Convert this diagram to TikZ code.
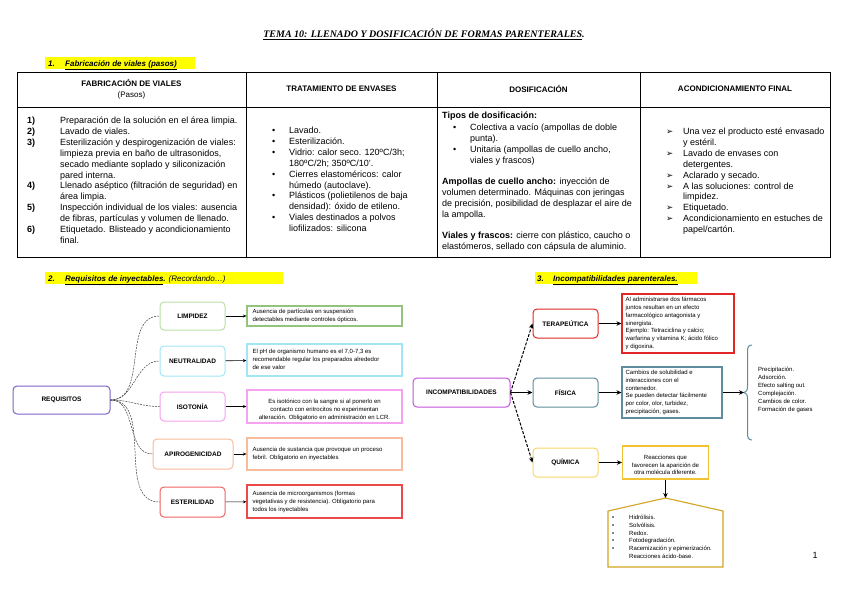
\documentclass[tikz,border=0pt]{standalone}
\usepackage{fontspec}
\usepackage{array}
\setmainfont{Liberation Sans}
\newfontfamily\serifT{Liberation Serif}
\newfontfamily\dvs{DejaVu Sans}
\usetikzlibrary{arrows.meta}
\newcommand{\tb}[2]{{\setlength{\tabcolsep}{0pt}\begin{tabular}{#1}#2\end{tabular}}}
\newcommand{\arw}{{\dvs\fontsize{8.5}{10.9}\selectfont ➢}}
\definecolor{hl}{HTML}{FFFF00}
\definecolor{cReq}{HTML}{7B61C9}
\definecolor{cLimp}{HTML}{B9DFA5}
\definecolor{cLimpD}{HTML}{93C47D}
\definecolor{cNeut}{HTML}{9FE6F7}
\definecolor{cIso}{HTML}{F5A3EE}
\definecolor{cApi}{HTML}{F8BB9B}
\definecolor{cEst}{HTML}{F06262}
\definecolor{cEstD}{HTML}{EA4A4A}
\definecolor{cInc}{HTML}{C552DE}
\definecolor{cTer}{HTML}{E32727}
\definecolor{cFis}{HTML}{5E8E9E}
\definecolor{cQui}{HTML}{F7D766}
\definecolor{cQuiD}{HTML}{F1C232}
\definecolor{cPent}{HTML}{D3A521}
\begin{document}
\begin{tikzpicture}[x=1pt,y=-1pt,
  tbl/.style={line width=0.9pt, black},
  hdr/.style={inner sep=0, font=\fontsize{8}{11}\selectfont\bfseries},
  body/.style={inner sep=0, anchor=north west, font=\fontsize{9}{10.9}\selectfont},
  sec/.style={inner sep=0, anchor=base west, font=\fontsize{8}{10}\selectfont\bfseries\itshape},
  cat/.style={draw=#1, rounded corners=4pt, line width=1pt, inner sep=0, font=\fontsize{6.5}{8}\selectfont\bfseries},
  dbox/.style={draw=#1, line width=1.1pt, inner sep=0},
  dtxt/.style={inner sep=0, font=\fontsize{6}{8}\selectfont},
  rtxt/.style={inner sep=0, font=\fontsize{6}{7.8}\selectfont},
  thinarr/.style={-{Stealth[length=3.5pt,width=3pt]}, line width=0.6pt, black},
  bigarr/.style={-{Stealth[length=5pt,width=4.5pt]}, line width=1pt, black},
  dcurve/.style={line width=0.5pt, black!75, dash pattern=on 2pt off 1pt},
]
\useasboundingbox (0,0) rectangle (848,600);
\fill[white] (0,0) rectangle (848,600);

% Title
\node[inner sep=0, font=\serifT\itshape\bfseries\fontsize{10}{12}\selectfont] (title) at (424,34)
  {\underline{TEMA 10: LLENADO Y DOSIFICACIÓN DE FORMAS PARENTERALES}.};

% Section 1 heading
\fill[hl] (45,57) rectangle (195,69);
\node[sec] (s1n) at (48,66) {1.};
\node[sec] (s1t) at (65,66) {\underline{Fabricación de viales (pasos)}};

% Table
\draw[tbl] (17,72) rectangle (830,257);
\draw[tbl] (17,107) -- (830,107);
\foreach \xx in {246,437,640} {\draw[tbl] (\xx,72) -- (\xx,257);}

\node[hdr] (h1) at (131.5,90) {\tb{c}{FABRICACIÓN DE VIALES\\{\mdseries (Pasos)}}};
\node[hdr] (h2) at (341.5,89) {TRATAMIENTO DE ENVASES};
\node[hdr] (h3) at (538.5,89) {DOSIFICACIÓN};
\node[hdr] (h4) at (735,89) {ACONDICIONAMIENTO FINAL};

\node[body] (c1) at (27,115.7) {\tb{>{\bfseries}p{33pt}l}{
1) & Preparación de la solución en el área limpia.\\
2) & Lavado de viales.\\
3) & Esterilización y despirogenización de viales:\\
   & limpieza previa en baño de ultrasonidos,\\
   & secado mediante soplado y siliconización\\
   & pared interna.\\
4) & Llenado aséptico (filtración de seguridad) en\\
   & área limpia.\\
5) & Inspección individual de los viales: ausencia\\
   & de fibras, partículas y volumen de llenado.\\
6) & Etiquetado. Blisteado y acondicionamiento\\
   & final.}};

\node[body] (c2) at (272,125.7) {\tb{p{17pt}l}{
\textbullet & Lavado.\\
\textbullet & Esterilización.\\
\textbullet & Vidrio: calor seco. 120ºC/3h;\\
            & 180ºC/2h; 350ºC/10’.\\
\textbullet & Cierres elastoméricos: calor\\
            & húmedo (autoclave).\\
\textbullet & Plásticos (polietilenos de baja\\
            & densidad): óxido de etileno.\\
\textbullet & Viales destinados a polvos\\
            & liofilizados: silicona}};

\node[body] (c3a) at (442,111.7) {\textbf{Tipos de dosificación:}};
\node[body] (c3b) at (453,122.7) {\tb{p{17pt}l}{
\textbullet & Colectiva a vacío (ampollas de doble\\
            & punta).\\
\textbullet & Unitaria (ampollas de cuello ancho,\\
            & viales y frascos)}};
\node[body] (c3c) at (442,176.7) {\tb{l}{
\textbf{Ampollas de cuello ancho:} inyección de\\
volumen determinado. Máquinas con jeringas\\
de precisión, posibilidad de desplazar el aire de\\
la ampolla.}};
\node[body] (c3d) at (442,230.7) {\tb{l}{
\textbf{Viales y frascos:} cierre con plástico, caucho o\\
elastómeros, sellado con cápsula de aluminio.}};

\node[body] (c4) at (666,126.7) {\tb{p{17pt}l}{
\arw & Una vez el producto esté envasado\\
  & y estéril.\\
\arw & Lavado de envases con\\
  & detergentes.\\
\arw & Aclarado y secado.\\
\arw & A las soluciones: control de\\
  & limpidez.\\
\arw & Etiquetado.\\
\arw & Acondicionamiento en estuches de\\
  & papel/cartón.}};

% Section 2 heading
\fill[hl] (45,272) rectangle (283,284);
\node[sec] (s2n) at (48,281) {2.};
\node[sec] (s2t) at (65,281) {\underline{Requisitos de inyectables}. {\mdseries(Recordando…)}};

% Left diagram
\node[cat=cReq, minimum width=97pt, minimum height=28pt] (req) at (61.5,400) {REQUISITOS};
\node[cat=cLimp, minimum width=65pt, minimum height=28pt] (limp) at (192.5,316) {LIMPIDEZ};
\node[cat=cNeut, minimum width=65pt, minimum height=30pt] (neut) at (192.5,361) {NEUTRALIDAD};
\node[cat=cIso, minimum width=65pt, minimum height=29pt] (iso) at (192.5,406.5) {ISOTONÍA};
\node[cat=cApi, minimum width=80pt, minimum height=30pt] (api) at (193,454) {APIROGENICIDAD};
\node[cat=cEst, minimum width=65pt, minimum height=30pt] (est) at (192.5,502) {ESTERILIDAD};

\node[dbox=cLimpD, minimum width=155pt, minimum height=20pt] (ld) at (324.5,316) {};
\node[dbox=cNeut, minimum width=155pt, minimum height=32pt] (nd) at (324.5,360) {};
\node[dbox=cIso, minimum width=155pt, minimum height=33pt] (id) at (324.5,406.5) {};
\node[dbox=cApi, minimum width=155pt, minimum height=32pt] (ad) at (324.5,454) {};
\node[dbox=cEstD, minimum width=155pt, minimum height=33pt] (ed) at (324.5,501.5) {};

\node[dtxt, anchor=west] (ldt) at ([xshift=6pt]ld.west) {\tb{l}{Ausencia de partículas en suspensión\\ detectables mediante controles ópticos.}};
\node[dtxt, anchor=west] (ndt) at ([xshift=6pt]nd.west) {\tb{l}{El pH de organismo humano es el 7,0-7,3 es\\ recomendable regular los preparados alrededor\\ de ese valor}};
\node[dtxt] (idt) at ([yshift=-3.5pt]id.center) {\tb{c}{Es isotónico con la sangre si al ponerlo en\\ contacto con eritrocitos no experimentan\\ alteración. Obligatorio en administración en LCR.}};
\node[dtxt, anchor=west] (adt) at ([xshift=6pt]ad.west) {\tb{l}{Ausencia de sustancia que provoque un proceso\\ febril. Obligatorio en inyectables}};
\node[dtxt, anchor=west] (edt) at ([xshift=6pt]ed.west) {\tb{l}{Ausencia de microorganismos (formas\\ vegetativas y de resistencia). Obligatorio para\\ todos los inyectables}};

\foreach \a/\b in {limp/ld, neut/nd, iso/id, api/ad, est/ed} {
  \draw[thinarr] (\a) -- (\b);
  \draw[dcurve] (req.east) to[out=0,in=180] (\a.west);
}

% Section 3 heading
\fill[hl] (535,272) rectangle (697,284);
\node[sec] (s3n) at (537,281) {3.};
\node[sec] (s3t) at (553,281) {\underline{Incompatibilidades parenterales.}};

% Right diagram
\node[cat=cInc, minimum width=97pt, minimum height=29pt] (inc) at (461.5,392.5) {INCOMPATIBILIDADES};
\node[cat=cTer, minimum width=65pt, minimum height=29pt] (ter) at (565.5,323.5) {TERAPEÚTICA};
\node[cat=cFis, minimum width=65pt, minimum height=29pt] (fis) at (565.5,392.5) {FÍSICA};
\node[cat=cQui, minimum width=65pt, minimum height=29pt] (qui) at (565.5,462.5) {QUÍMICA};

\node[dbox=cTer, minimum width=112pt, minimum height=59pt] (td) at (678,323.5) {};
\node[dbox=cFis, minimum width=100pt, minimum height=51pt] (fd) at (672,392.5) {};
\node[dbox=cQuiD, minimum width=86pt, minimum height=33pt] (qd) at (665.5,462.5) {};

\node[rtxt, anchor=west] (tdt) at ([xshift=4pt]td.west) {\tb{l}{Al administrarse dos fármacos\\ juntos resultan en un efecto\\ farmacológico antagonista y\\ sinergista.\\ Ejemplo: Tetraciclina y calcio;\\ warfarina y vitamina K; ácido fólico\\ y digoxina.}};
\node[rtxt, anchor=west] (fdt) at ([xshift=4pt]fd.west) {\tb{l}{Cambios de solubilidad e\\ interacciones con el\\ contenedor.\\ Se pueden detectar fácilmente\\ por color, olor, turbidez,\\ precipitación, gases.}};
\node[rtxt] (qdt) at ([yshift=-3pt]qd.center) {\tb{c}{Reacciones que\\ favorecen la aparición de\\ otra molécula diferente.}};

\draw[bigarr, dash pattern=on 3pt off 1.5pt] (inc.east) -- (ter.west);
\draw[bigarr] (inc) -- (fis);
\draw[bigarr, dash pattern=on 3pt off 1.5pt] (inc.east) -- (qui.west);
\draw[bigarr] (ter) -- (td);
\draw[bigarr] (fis) -- (fd);
\draw[bigarr] (qui) -- (qd);

% Brace
\coordinate (bt) at (744,392.5);
\draw[cFis, line width=1pt] (752,345) .. controls (748.5,345) and (747.5,347) .. (747.5,352) -- (747.5,386)
  .. controls (747.5,390) and (746.5,392.5) .. (bt)
  .. controls (746.5,392.5) and (747.5,395) .. (747.5,399) -- (747.5,433)
  .. controls (747.5,438) and (748.5,440) .. (752,440);
\draw[bigarr] (fd) -- (bt);
\node[rtxt, anchor=west, font=\fontsize{6}{8}\selectfont] (bl) at (758,390) {\tb{l}{Precipitación.\\ Adsorción.\\ Efecto salting out.\\ Complejación.\\ Cambios de color.\\ Formación de gases}};

% Pentagon
\coordinate (pt) at (665.5,498);
\draw[cPent, line width=1.1pt] (608,511) -- (pt) -- (723,511) -- (723,567) -- (608,567) -- cycle;
\draw[bigarr] (qd.south) -- (pt);
\node[rtxt, anchor=west, font=\fontsize{6}{7.8}\selectfont] (pl) at (612,537.5) {\tb{p{17pt}l}{\textbullet & Hidrólisis.\\ \textbullet & Solvólisis.\\ \textbullet & Redox.\\ \textbullet & Fotodegradación.\\ \textbullet & Racemización y epimerización.\\ & Reacciones ácido-base.}};

% Page number
\node[inner sep=0, font=\fontsize{9}{10}\selectfont] (pg) at (815,555) {1};
\end{tikzpicture}
\end{document}
